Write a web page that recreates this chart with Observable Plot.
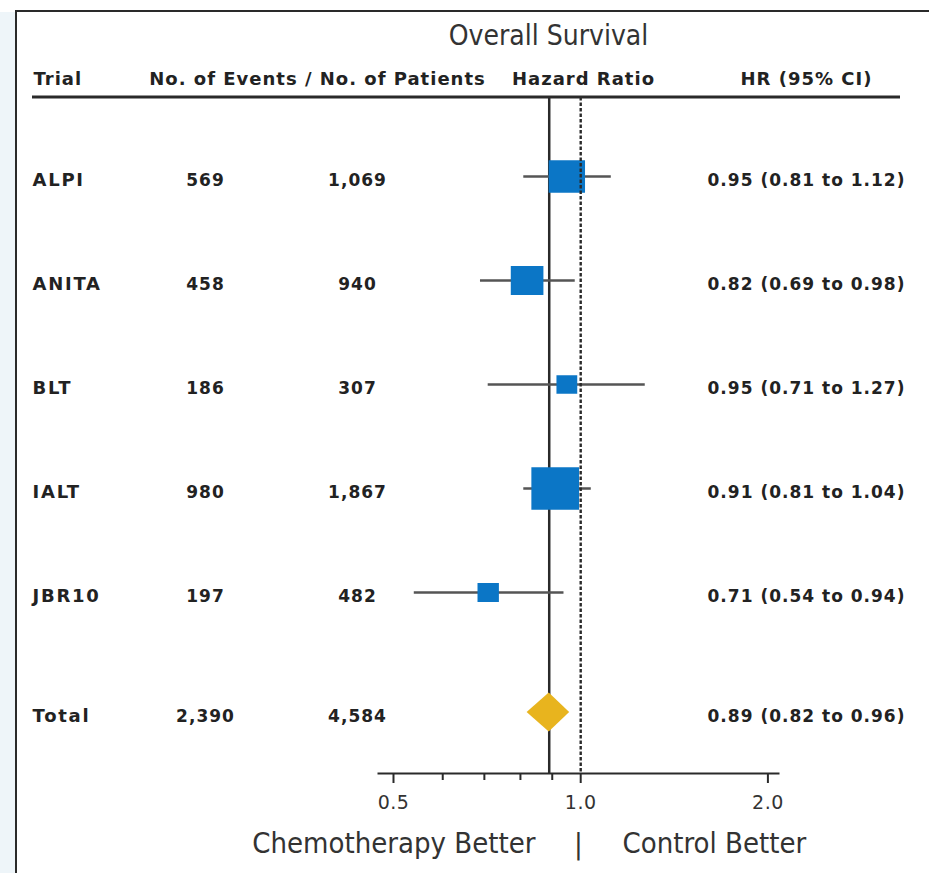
<!DOCTYPE html>
<html><head><meta charset="utf-8">
<script src="https://cdn.jsdelivr.net/npm/d3@7"></script>
<script src="https://cdn.jsdelivr.net/npm/@observablehq/plot@0.6"></script>
<style>
html,body{margin:0;padding:0;background:#fff;overflow:hidden;}
#wrap{position:relative;width:929px;height:873px;overflow:hidden;}
#strip{position:absolute;left:0;top:12px;width:15px;bottom:0;background:#eef5f9;}
#frame{position:absolute;left:15px;top:10px;width:1000px;height:1000px;border-top:2px solid #2a2a2a;border-left:2px solid #2a2a2a;pointer-events:none;}
#chart{position:absolute;left:0;top:0;}
</style></head>
<body><div id="wrap"><div id="strip"></div><div id="chart"></div><div id="frame"></div></div>
<script>
// ---- data ----
const trials   = ["ALPI", "ANITA", "BLT", "IALT", "JBR10"];
const events   = [569, 458, 186, 980, 197];
const patients = [1069, 940, 307, 1867, 482];
const hrs      = [0.95, 0.82, 0.95, 0.91, 0.71];
const lows     = [0.81, 0.69, 0.71, 0.81, 0.54];
const highs    = [1.12, 0.98, 1.27, 1.04, 0.94];
const totalLabel = "Total";
const totalEvents = 2390, totalPatients = 4584;
const totalHR = 0.89, totalLow = 0.82, totalHigh = 0.96;
const majorTicks = [0.5, 1.0, 2.0];
const minorTicks = [0.6, 0.7, 0.8, 0.9];
const titleText = "Overall Survival";
const headerTrial = "Trial", headerCounts = "No. of Events / No. of Patients",
      headerHR = "Hazard Ratio", headerCI = "HR (95% CI)";
const leftSide = "Chemotherapy Better", rightSide = "Control Better";

// ---- tables ----
const rows = trials.map((t, i) => ({trial: t, events: events[i], patients: patients[i], hr: hrs[i], lo: lows[i], hi: highs[i]}));
const total = {trial: totalLabel, events: totalEvents, patients: totalPatients, hr: totalHR, lo: totalLow, hi: totalHigh};
const fmt = d3.format(",");
const ci = d => `${d.hr.toFixed(2)} (${d.lo.toFixed(2)} to ${d.hi.toFixed(2)})`;
const tickFmt = d => d.toFixed(1);

const W = 929, H = 873, ML = 378, MR = 151, MT = 97, MB = 100;
const TOTAL_SHIFT = 16;
const BLUE = "#0b76c6", GOLD = "#e8b41e", INK = "#2a2a2a";

const rectSymbol = {
  draw(ctx, size) {
    const s = Math.sqrt(size), w = s * 1.06 / 2, h = s / 1.06 / 2;
    ctx.moveTo(-w, -h); ctx.lineTo(w, -h); ctx.lineTo(w, h); ctx.lineTo(-w, h); ctx.closePath();
  }
};

function headerRule(index, scales, values, dims) {
  return d3.create("svg:line")
    .attr("x1", 32).attr("x2", dims.width - 29)
    .attr("y1", dims.marginTop).attr("y2", dims.marginTop)
    .attr("stroke", INK).attr("stroke-width", 3).node();
}
function diamond(index, scales) {
  const x = scales.x, y = scales.y;
  const cy = y(total.trial) + TOTAL_SHIFT, h = 19.5;
  const pts = [[x(total.lo), cy], [x(total.hr), cy - h], [x(total.hi), cy], [x(total.hr), cy + h]];
  return d3.create("svg:polygon").attr("points", pts.map(p => p.join(",")).join(" "))
    .attr("fill", GOLD).node();
}

const common = {fontFamily: "DejaVu Sans", fontWeight: "bold", fill: "#222"};
const rowText = (data, text, anchor, dx, textAnchor, size, shift) =>
  Plot.text(data, {y: "trial", text, frameAnchor: anchor, dx, dy: 4 + shift, textAnchor, fontSize: size, ...common});

const chart = Plot.plot({
  width: W, height: H,
  marginLeft: ML, marginRight: MR, marginTop: MT, marginBottom: MB,
  style: {background: "transparent", overflow: "visible"},
  x: {type: "log", domain: [0.473, 2.08], axis: null},
  y: {type: "point", domain: [...trials, totalLabel], range: [175, 697.5], padding: 0, axis: null},
  r: {type: "sqrt", domain: [0, 980], range: [0, 25.4]},
  marks: [
    Plot.ruleX([total], {x: "hr", stroke: INK, strokeWidth: 2.5}),
    Plot.ruleY(rows, {y: "trial", x1: "lo", x2: "hi", stroke: "#555", strokeWidth: 2.4}),
    Plot.dot(rows, {x: "hr", y: "trial", r: "events", symbol: rectSymbol, fill: BLUE, stroke: null}),
    Plot.ruleX([1], {stroke: INK, strokeWidth: 2.4, strokeDasharray: "3.5,2"}),
    diamond,
    Plot.frame({anchor: "bottom", stroke: INK, strokeWidth: 2}),
    Plot.axisX({ticks: minorTicks, tickSize: 7, tickFormat: () => "", stroke: INK, strokeWidth: 2}),
    Plot.axisX({ticks: majorTicks, tickSize: 10, tickPadding: 12, tickFormat: tickFmt,
                fontSize: 19, stroke: INK, fill: "#333", strokeWidth: 2}),
    // row text
    rowText(rows, "trial", "left", -346, "start", 18, 0),
    rowText([total], "trial", "left", -346, "start", 18, TOTAL_SHIFT),
    rowText(rows, d => fmt(d.events), "left", -173, "middle", 17, 0),
    rowText([total], d => fmt(d.events), "left", -173, "middle", 17, TOTAL_SHIFT),
    rowText(rows, d => fmt(d.patients), "left", -21, "middle", 17, 0),
    rowText([total], d => fmt(d.patients), "left", -21, "middle", 17, TOTAL_SHIFT),
    rowText(rows, ci, "right", 28, "middle", 17, 0),
    rowText([total], ci, "right", 28, "middle", 17, TOTAL_SHIFT),
    // headers
    headerRule,
    Plot.text([titleText], {text: d => d, frameAnchor: "top", dx: -30, dy: -53, lineAnchor: "bottom", textAnchor: "middle", fontSize: 28, fill: "#333"}),
    Plot.text([headerTrial], {text: d => d, frameAnchor: "top-left", dx: -345, dy: -13, lineAnchor: "bottom", textAnchor: "start", fontSize: 18, ...common}),
    Plot.text([headerCounts], {text: d => d, frameAnchor: "top-left", dx: -61, dy: -13, lineAnchor: "bottom", textAnchor: "middle", fontSize: 18, ...common}),
    Plot.text([headerHR], {text: d => d, frameAnchor: "top", dx: 5, dy: -13, lineAnchor: "bottom", textAnchor: "middle", fontSize: 18, ...common}),
    Plot.text([headerCI], {text: d => d, frameAnchor: "top", dx: 228, dy: -13, lineAnchor: "bottom", textAnchor: "middle", fontSize: 18, ...common}),
    // bottom labels
    Plot.text([leftSide], {text: d => d, frameAnchor: "bottom", dx: -43, dy: 79, lineAnchor: "bottom", textAnchor: "end", fontSize: 29, fill: "#333"}),
    Plot.text(["|"], {text: d => d, frameAnchor: "bottom", dx: 0, dy: 80, lineAnchor: "bottom", textAnchor: "middle", fontSize: 29, fill: "#333"}),
    Plot.text([rightSide], {text: d => d, frameAnchor: "bottom", dx: 44, dy: 79, lineAnchor: "bottom", textAnchor: "start", fontSize: 29, fill: "#333"})
  ]
});

// ---- typographic touches (letter spacing / condensed faces) ----
const labelSet = new Set([...trials, totalLabel]);
const headerSet = new Set([headerTrial, headerCounts, headerHR, headerCI]);
const condensedSet = new Set([titleText, leftSide, rightSide, "|"]);
const tickSet = new Set(majorTicks.map(tickFmt));
d3.select(chart).selectAll("text").each(function () {
  const t = this.textContent, s = this.style;
  if (labelSet.has(t)) s.letterSpacing = "1.75px";
  else if (headerSet.has(t)) s.letterSpacing = "1px";
  else if (condensedSet.has(t)) { s.fontFamily = "'DejaVu Sans'"; s.fontStretch = "condensed"; }
  else if (tickSet.has(t)) { s.fontFamily = "'DejaVu Sans'"; s.fontSize = "19px"; s.letterSpacing = "0.5px"; s.fill = "#333"; }
  else if (/^[0-9]/.test(t)) s.letterSpacing = "1px";
});
document.getElementById("chart").appendChild(chart);
</script>
</body></html>
